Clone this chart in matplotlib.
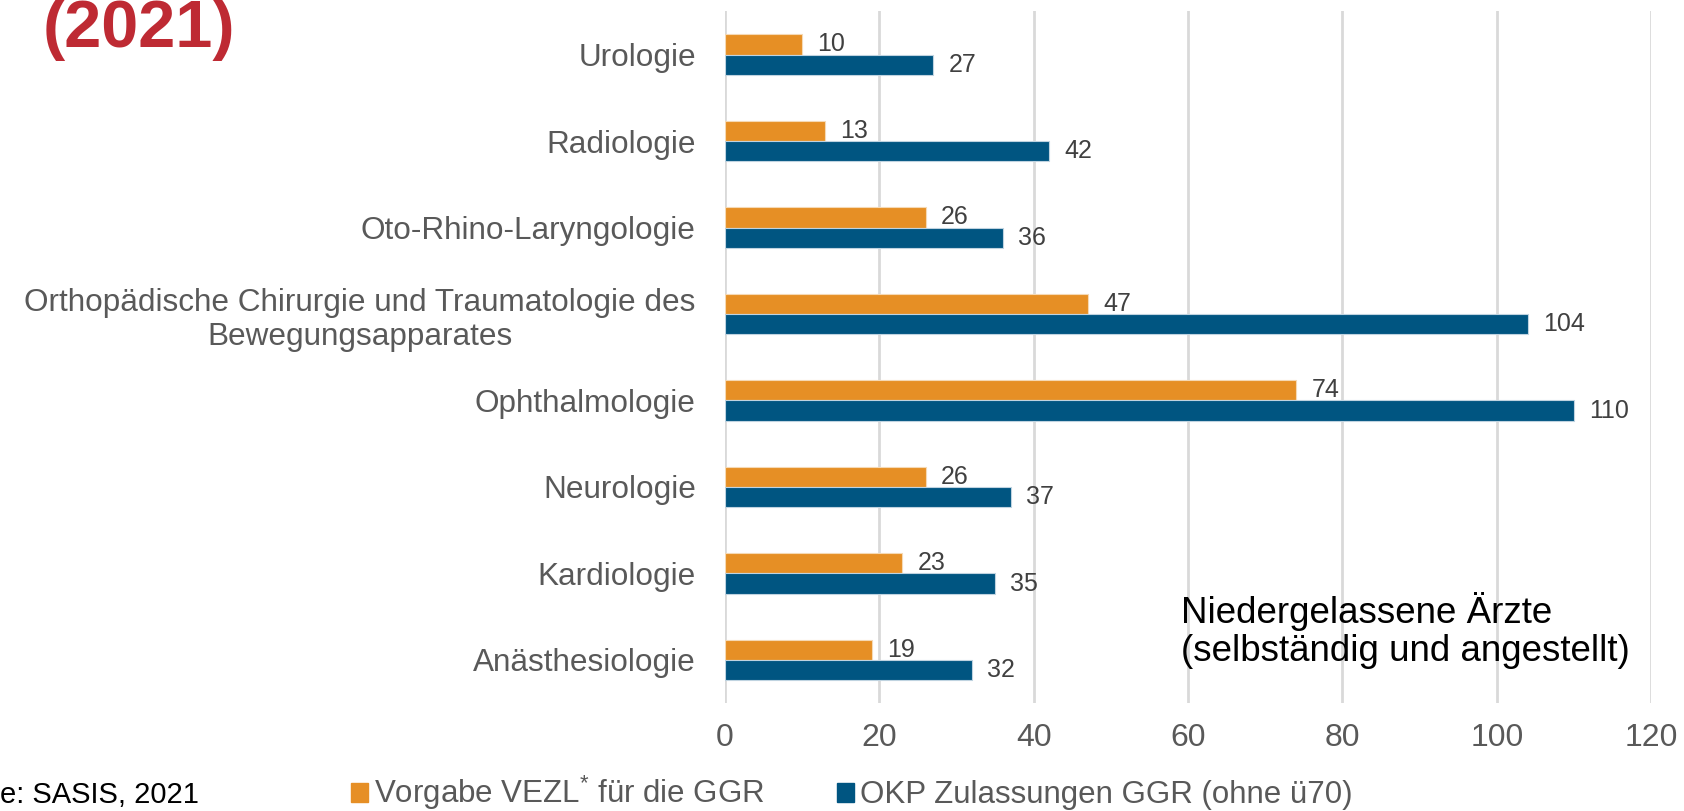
import matplotlib

matplotlib.use("Agg")
import matplotlib.pyplot as plt
import numpy as np
from matplotlib.patches import Patch

plt.rcParams["font.family"] = ["Liberation Sans", "DejaVu Sans"]
plt.rcParams["mathtext.fontset"] = "custom"
plt.rcParams["mathtext.rm"] = "Liberation Sans"

categories = [
    "Urologie",
    "Radiologie",
    "Oto-Rhino-Laryngologie",
    "Orthopädische Chirurgie und Traumatologie des\nBewegungsapparates",
    "Ophthalmologie",
    "Neurologie",
    "Kardiologie",
    "Anästhesiologie",
]
vorgabe = [10, 13, 26, 47, 74, 26, 23, 19]
zulassungen = [27, 42, 36, 104, 110, 37, 35, 32]
xticks = [0, 20, 40, 60, 80, 100, 120]

ORANGE = "#E68F25"
BLUE = "#005581"
GRID = "#D9D9D9"
TXT = "#595959"

fig = plt.figure(figsize=(16.84, 8.11), dpi=100, facecolor="white")
ax = fig.add_axes([0.4305, 0.133, 0.55, 0.853])

n = len(categories)
y = np.arange(n)[::-1]
h = 0.235
b1 = ax.barh(y + h / 2, vorgabe, h, color=ORANGE, edgecolor="#F5D9B5", linewidth=0.8, zorder=3)
b2 = ax.barh(y - h / 2, zulassungen, h, color=BLUE, edgecolor="#BFD3E0", linewidth=0.8, zorder=3)
ax.bar_label(b1, padding=11, fontsize=18, color="#404040")
ax.bar_label(b2, padding=11, fontsize=18, color="#404040")

ax.set_xlim(0, 120)
ax.set_ylim(-0.5, n - 0.5)
ax.set_xticks(xticks)
ax.set_yticks(y)
ax.set_yticklabels(categories, fontsize=22.7, color=TXT, multialignment="center")
ax.tick_params(axis="x", labelsize=23, labelcolor=TXT, length=0, pad=14)
ax.tick_params(axis="y", length=0, pad=21)
for s in ax.spines.values():
    s.set_visible(False)
ax.grid(axis="x", color=GRID, linewidth=2, zorder=0)
ax.set_axisbelow(True)

ax.text(0.492, 0.105, "Niedergelassene Ärzte\n(selbständig und angestellt)",
        transform=ax.transAxes, fontsize=26.5, color="black", ha="left", va="center",
        linespacing=1.1)

fig.text(43 / 1684, 1 - 30 / 811, "(2021)", fontsize=48, fontweight="bold",
         color="#BE2A33", ha="left", va="center")
fig.text(199 / 1684, 1 - 795 / 811, "Quelle: SASIS, 2021", fontsize=21,
         color="black", ha="right", va="center")

handles = [Patch(color=ORANGE), Patch(color=BLUE)]
labels = ["Vorgabe VEZL$^{*}$ für die GGR", "OKP Zulassungen GGR (ohne ü70)"]
leg = fig.legend(handles, labels, loc="center left", bbox_to_anchor=(351 / 1684, 1 - 793 / 811),
                 ncol=2, frameon=False, fontsize=22.5, handlelength=0.55, handleheight=0.55,
                 handletextpad=0.2, columnspacing=2.3, borderaxespad=0, borderpad=0)
for t in leg.get_texts():
    t.set_color(TXT)

fig.savefig("out.png", dpi=100, facecolor="white")
